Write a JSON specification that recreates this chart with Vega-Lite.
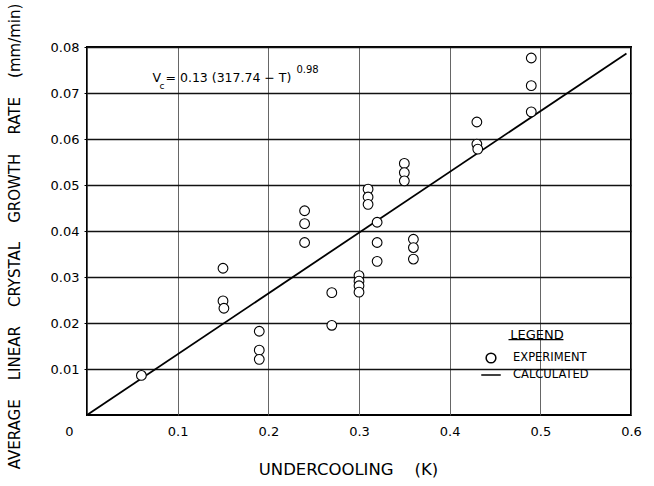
{
  "$schema": "https://vega.github.io/schema/vega-lite/v6.json",
  "width": 544,
  "height": 368,
  "autosize": {"type": "none"},
  "padding": {"left": 87, "top": 47, "right": 23, "bottom": 71},
  "background": "white",
  "config": {
    "font": "DejaVu Sans",
    "view": {"stroke": "black", "strokeWidth": 2},
    "axis": {"labelFont": "DejaVu Sans", "titleFont": "DejaVu Sans", "labelColor": "black", "titleColor": "black", "titleFontWeight": "normal", "domain": false},
    "legend": {"labelFont": "DejaVu Sans", "titleFont": "DejaVu Sans", "labelColor": "black", "titleColor": "black", "padding": 0},
    "text": {"font": "DejaVu Sans", "color": "black"}
  },
  "layer": [
    {
      "data": {"values": [{"x": 0, "y": 0}, {"x": 0.595, "y": 0.0786}]},
      "mark": {"type": "line", "color": "black", "strokeWidth": 1.8},
      "encoding": {
        "x": {
          "field": "x", "type": "quantitative",
          "scale": {"domain": [0, 0.6], "nice": false},
          "axis": {
            "values": [0, 0.1, 0.2, 0.3, 0.4, 0.5, 0.6],
            "labelExpr": "datum.value == 0 ? '0' : format(datum.value, '.1f')",
            "labelFontSize": 13, "labelPadding": 10, "ticks": false,
            "labelOffset": {"condition": {"test": "datum.value == 0", "value": -18}, "value": 0},
            "labelFlush": false, "labelOverlap": false,
            "grid": true, "gridColor": "#555", "gridWidth": 0.9,
            "title": "UNDERCOOLING \u00a0\u00a0 (K)", "titleFontSize": 16.5,
            "titleX": 261, "titleY": 54, "titleAlign": "center", "titleBaseline": "middle"
          }
        },
        "y": {
          "field": "y", "type": "quantitative",
          "scale": {"domain": [0, 0.08], "nice": false},
          "axis": {
            "values": [0.01, 0.02, 0.03, 0.04, 0.05, 0.06, 0.07, 0.08],
            "format": ".2f",
            "labelFontSize": 13, "labelPadding": 5, "ticks": true, "tickSize": 3, "tickColor": "black",
            "labelFlush": false, "labelOverlap": false,
            "grid": true, "gridColor": "#111", "gridWidth": 1.3,
            "title": "AVERAGE \u00a0\u00a0\u00a0LINEAR \u00a0\u00a0\u00a0CRYSTAL \u00a0\u00a0\u00a0GROWTH \u00a0\u00a0\u00a0RATE \u00a0\u00a0\u00a0(mm/min)", "titleFontSize": 15,
            "titleX": -73, "titleY": 189, "titleAlign": "center", "titleBaseline": "middle", "titleAngle": -90
          }
        }
      }
    },
    {
      "data": {"values": [
        {"x": 0.06, "y": 0.0086},
        {"x": 0.15, "y": 0.0319},
        {"x": 0.15, "y": 0.0248},
        {"x": 0.151, "y": 0.0232},
        {"x": 0.19, "y": 0.0182},
        {"x": 0.19, "y": 0.0141},
        {"x": 0.19, "y": 0.0121},
        {"x": 0.24, "y": 0.0444},
        {"x": 0.24, "y": 0.0416},
        {"x": 0.24, "y": 0.0375},
        {"x": 0.27, "y": 0.0266},
        {"x": 0.27, "y": 0.0195},
        {"x": 0.30, "y": 0.0303},
        {"x": 0.30, "y": 0.0291},
        {"x": 0.30, "y": 0.0281},
        {"x": 0.30, "y": 0.0267},
        {"x": 0.31, "y": 0.0491},
        {"x": 0.31, "y": 0.0474},
        {"x": 0.31, "y": 0.0458},
        {"x": 0.32, "y": 0.0419},
        {"x": 0.32, "y": 0.0375},
        {"x": 0.32, "y": 0.0334},
        {"x": 0.35, "y": 0.0547},
        {"x": 0.35, "y": 0.0527},
        {"x": 0.35, "y": 0.0509},
        {"x": 0.36, "y": 0.0382},
        {"x": 0.36, "y": 0.0364},
        {"x": 0.36, "y": 0.0339},
        {"x": 0.43, "y": 0.0637},
        {"x": 0.43, "y": 0.0589},
        {"x": 0.431, "y": 0.0578},
        {"x": 0.49, "y": 0.0776},
        {"x": 0.49, "y": 0.0716},
        {"x": 0.49, "y": 0.0659}
      ]},
      "mark": {"type": "point", "filled": true, "fill": "white", "stroke": "black", "strokeWidth": 1.1, "opacity": 1, "size": 95},
      "encoding": {
        "x": {"field": "x", "type": "quantitative"},
        "y": {"field": "y", "type": "quantitative"},
        "shape": {
          "datum": "EXPERIMENT", "type": "nominal",
          "scale": {"domain": ["EXPERIMENT", "CALCULATED"], "range": ["circle", "M-2,0L2,0"]},
          "legend": {
            "title": "LEGEND", "orient": "none", "legendX": 398, "legendY": 282,
            "titleFontSize": 13, "titleFontWeight": "normal", "titleAnchor": "middle", "titlePadding": 10,
            "labelFontSize": 11.5, "labelOffset": 16, "rowPadding": 3,
            "symbolSize": 95,
            "encode": {
              "symbols": {"update": {
                "stroke": {"value": "black"},
                "fill": {"value": "white"},
                "strokeWidth": {"value": 1.5},
                "opacity": {"value": 1},
                "fillOpacity": {"value": 1},
                "strokeOpacity": {"value": 1}
              }}
            }
          }
        }
      }
    },
    {
      "data": {"values": [{"x": 0.4649, "x2": 0.5255, "y": 0.0164}]},
      "mark": {"type": "rule", "color": "black", "strokeWidth": 1.2},
      "encoding": {
        "x": {"field": "x", "type": "quantitative"},
        "x2": {"field": "x2"},
        "y": {"field": "y", "type": "quantitative"}
      }
    },
    {
      "data": {"values": [{"x": 0.0722, "y": 0.0733, "t": "V"}]},
      "mark": {"type": "text", "align": "left", "baseline": "middle", "fontSize": 12.5},
      "encoding": {
        "x": {"field": "x", "type": "quantitative"},
        "y": {"field": "y", "type": "quantitative"},
        "text": {"field": "t"}
      }
    },
    {
      "data": {"values": [{"x": 0.080, "y": 0.0716, "t": "c"}]},
      "mark": {"type": "text", "align": "left", "baseline": "middle", "fontSize": 9},
      "encoding": {
        "x": {"field": "x", "type": "quantitative"},
        "y": {"field": "y", "type": "quantitative"},
        "text": {"field": "t"}
      }
    },
    {
      "data": {"values": [{"x": 0.0866, "y": 0.0733, "t": "= 0.13 (317.74 − T)"}]},
      "mark": {"type": "text", "align": "left", "baseline": "middle", "fontSize": 12.5},
      "encoding": {
        "x": {"field": "x", "type": "quantitative"},
        "y": {"field": "y", "type": "quantitative"},
        "text": {"field": "t"}
      }
    },
    {
      "data": {"values": [{"x": 0.231, "y": 0.0751, "t": "0.98"}]},
      "mark": {"type": "text", "align": "left", "baseline": "middle", "fontSize": 10},
      "encoding": {
        "x": {"field": "x", "type": "quantitative"},
        "y": {"field": "y", "type": "quantitative"},
        "text": {"field": "t"}
      }
    }
  ]
}
